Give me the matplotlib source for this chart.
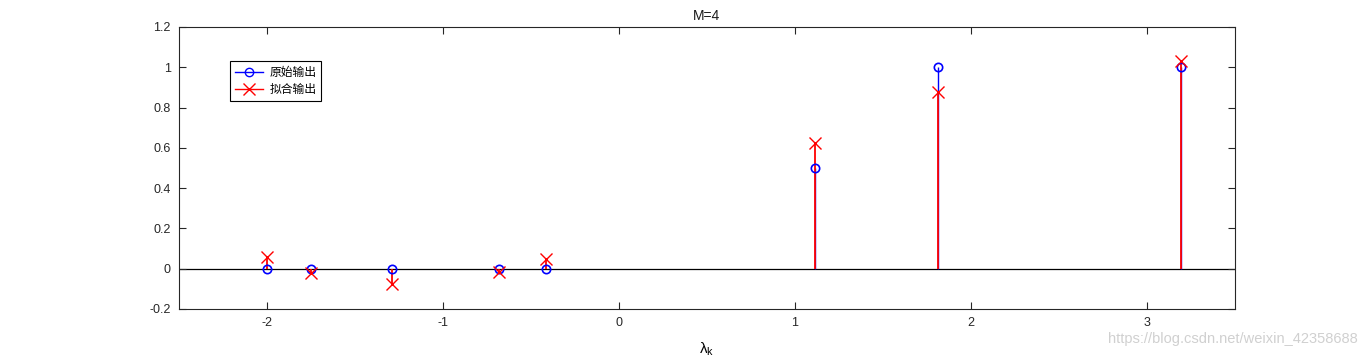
import numpy as np
import matplotlib.pyplot as plt
from matplotlib.lines import Line2D

plt.rcParams['font.family'] = ['Liberation Sans', 'Noto Sans CJK SC']
plt.rcParams['axes.unicode_minus'] = False

# eigenvalues (x) and the two outputs
lam = [-2.0, -1.748, -1.290, -0.682, -0.416, 1.114, 1.811, 3.193]
y_orig = [0, 0, 0, 0, 0, 0.5, 1, 1]
y_fit = [0.058, -0.02, -0.075, -0.017, 0.05, 0.624, 0.878, 1.031]

fig = plt.figure(figsize=(13.66, 3.59), dpi=100)
ax = fig.add_axes([0.1310, 0.1393, 0.7730, 0.7855])

ax.axhline(0, color='black', lw=0.9, zorder=1)

ml, sl, bl = ax.stem(lam, y_orig, linefmt='b-', markerfmt='bo', basefmt=' ')
plt.setp(sl, lw=1.0, zorder=2)
plt.setp(ml, markerfacecolor='none', markersize=6, markeredgewidth=1.2, zorder=4)

ml2, sl2, bl2 = ax.stem(lam, y_fit, linefmt='r-', markerfmt='rx', basefmt=' ')
plt.setp(sl2, lw=1.3, zorder=3)
plt.setp(ml2, markersize=9, markeredgewidth=1.0, zorder=5)

ax.set_xlim(-2.5, 3.5)
ax.set_ylim(-0.2, 1.2)
ax.set_xticks([-2, -1, 0, 1, 2, 3])
ax.set_yticks(np.arange(-0.2, 1.21, 0.2))
ax.set_yticklabels(['-0.2', '0', '0.2', '0.4', '0.6', '0.8', '1', '1.2'])
ax.tick_params(direction='in', top=True, right=True, labelsize=9, length=5, width=0.8,
               colors='#262626', pad=6)
for s in ax.spines.values():
    s.set_linewidth(0.8)
    s.set_color('#262626')

ax.set_title('M=4', fontsize=10, color='#1a1a1a', pad=5)
ax.set_xlabel(r'$\mathregular{\lambda_k}$', fontsize=11, labelpad=8)

handles = [Line2D([], [], color='b', marker='o', markerfacecolor='none', markersize=6, lw=1),
           Line2D([], [], color='r', marker='x', markersize=9, lw=1)]
leg = ax.legend(handles, ['原始输出', '拟合输出'], loc='upper left',
                bbox_to_anchor=(0.043, 0.9), fancybox=False,
                edgecolor='black', framealpha=1, handlelength=2.4,
                borderpad=0.4, labelspacing=0.35, handletextpad=0.5,
                prop={'family': ['Noto Sans CJK SC'], 'size': 8.5})
leg.get_frame().set_linewidth(0.8)

fig.text(0.994, 0.035, 'https://blog.csdn.net/weixin_42358688', ha='right', va='bottom',
         fontsize=10.5, color='#d0d0d0')

fig.savefig('out.png', dpi=100)
